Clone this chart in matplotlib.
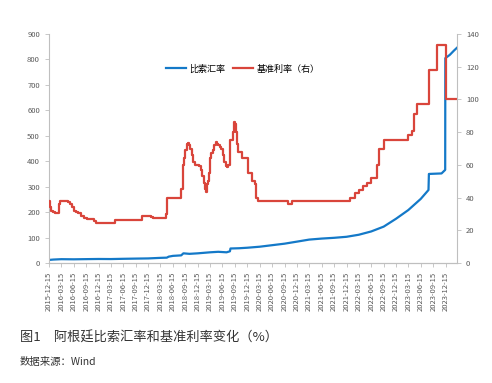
import matplotlib.pyplot as plt
import pandas as pd

plt.rcParams['font.family'] = ['Noto Sans CJK SC', 'DejaVu Sans']

# 比索汇率 (ARS/USD, left axis)
fx_dates = ['2015-12-15', '2016-01-15', '2016-03-15', '2016-06-15', '2016-09-15', '2016-12-15',
            '2017-03-15', '2017-06-15', '2017-09-15', '2017-12-15', '2018-03-15', '2018-05-01',
            '2018-05-15', '2018-06-15', '2018-08-15', '2018-08-31', '2018-10-15', '2018-12-15',
            '2019-03-15', '2019-05-15', '2019-07-15', '2019-08-09', '2019-08-13', '2019-10-15',
            '2019-12-15', '2020-03-15', '2020-06-15', '2020-09-15', '2020-12-15', '2021-03-15',
            '2021-06-15', '2021-09-15', '2021-12-15', '2022-03-15', '2022-06-15', '2022-09-15',
            '2022-12-15', '2023-03-15', '2023-06-15', '2023-08-11', '2023-08-14', '2023-11-15',
            '2023-12-12', '2023-12-13', '2024-01-15', '2024-02-15', '2024-03-08']
fx_values = [12, 13.5, 15, 14.5, 15.2, 15.8,
             15.5, 16.5, 17.3, 18, 20.2, 21,
             25, 28, 30, 38, 36, 38,
             42, 44, 42, 46, 57, 58,
             60, 64, 70, 76, 84, 92,
             96, 99, 103, 111, 124, 143,
             174, 208, 252, 287, 350, 352,
             366, 805, 818, 835, 846]

# 基准利率 (%, right axis)
rate_dates = ['2015-12-15', '2015-12-22', '2015-12-29', '2016-01-12', '2016-01-26', '2016-02-16',
              '2016-02-23', '2016-03-01', '2016-03-08', '2016-05-03', '2016-05-17', '2016-05-31',
              '2016-06-14', '2016-06-28', '2016-07-19', '2016-08-09', '2016-08-30', '2016-09-20',
              '2016-11-08', '2016-11-22', '2017-04-11', '2017-10-31', '2018-01-02', '2018-01-16',
              '2018-04-27', '2018-05-04', '2018-08-13', '2018-08-30', '2018-09-06', '2018-09-14',
              '2018-09-24', '2018-10-02', '2018-10-12', '2018-10-22', '2018-11-01', '2018-11-12',
              '2018-11-26', '2018-12-10', '2018-12-24', '2019-01-07', '2019-01-18', '2019-01-28',
              '2019-02-06', '2019-02-14', '2019-02-20', '2019-02-27', '2019-03-06', '2019-03-13',
              '2019-03-20', '2019-03-28', '2019-04-05', '2019-04-15', '2019-04-25', '2019-05-06',
              '2019-05-16', '2019-05-27', '2019-06-06', '2019-06-17', '2019-06-27', '2019-07-08',
              '2019-07-18', '2019-07-29', '2019-08-06', '2019-08-13', '2019-08-21', '2019-08-29',
              '2019-09-05', '2019-09-12', '2019-09-20', '2019-09-27', '2019-10-07', '2019-10-24',
              '2019-11-05', '2019-12-18', '2020-01-21', '2020-02-07', '2020-02-14', '2020-03-06',
              '2020-10-12', '2020-11-12', '2022-01-06', '2022-02-17', '2022-03-17', '2022-04-14',
              '2022-05-12', '2022-06-16', '2022-07-28', '2022-08-11', '2022-09-15', '2023-03-16',
              '2023-04-13', '2023-04-20', '2023-04-27', '2023-05-15', '2023-08-14', '2023-10-12',
              '2023-12-18', '2024-03-08']
rate_values = [38, 34, 32, 31, 30.5, 30.3,
               31, 36, 38, 37.5, 36, 34,
               32, 31, 30.3, 28.5, 27.5, 26.75,
               25.75, 24.75, 26.25, 28.75, 28, 27.25,
               30.25, 40, 45, 60, 64, 69,
               73, 73.5, 72, 70, 66, 62,
               60, 60, 59, 57, 53, 49,
               45, 43.6, 48, 50, 55, 64,
               67, 67.5, 69, 72, 74, 73,
               72, 71, 70, 66, 62, 59.5,
               58.5, 60, 62, 75, 75.5, 80,
               85.9, 85, 80, 73, 68, 68,
               64, 55, 50, 48, 40, 38,
               36, 38, 40, 42.5, 44.5, 47,
               49, 52, 60, 69.5, 75, 78,
               81, 81, 91, 97, 118, 133,
               100, 100]

tick_dates = pd.date_range('2015-12-01', '2023-12-01', freq='3MS') + pd.Timedelta(days=14)
tick_labels = [d.strftime('%Y-%m-%d') for d in tick_dates]

fx_x = pd.to_datetime(fx_dates)
rate_x = pd.to_datetime(rate_dates)

fig = plt.figure(figsize=(4.92, 3.83), dpi=100)
ax = fig.add_axes([49 / 492, 120 / 383, 408 / 492, 229 / 383])
ax2 = ax.twinx()

blue = '#1479c8'
red = '#d9453b'

l1, = ax.plot(fx_x, fx_values, color=blue, linewidth=1.6, label='比索汇率')
l2, = ax2.plot(rate_x, rate_values, color=red, linewidth=1.6, drawstyle='steps-post',
               label='基准利率（右）')

ax.set_ylim(0, 900)
ax.set_yticks(range(0, 901, 100))
ax2.set_ylim(0, 140)
ax2.set_yticks(range(0, 141, 20))
ax.set_xlim(pd.Timestamp('2015-12-15'), pd.Timestamp('2024-03-08'))
ax.set_xticks(tick_dates)
ax.set_xticklabels(tick_labels, rotation=90)

for a in (ax, ax2):
    a.spines['top'].set_visible(False)
    for s in ('left', 'right', 'bottom'):
        a.spines[s].set_color('#bfbfbf')
        a.spines[s].set_linewidth(0.8)
    a.tick_params(labelsize=5.5, colors='#595959', length=3, width=0.6)
    a.tick_params(axis='both', color='#bfbfbf')
ax2.spines['left'].set_visible(False)
ax.spines['right'].set_visible(False)

ax.legend(handles=[l1, l2], loc='center', bbox_to_anchor=(0.475, 0.847), ncol=2,
          frameon=False, fontsize=6.5, handlelength=2.2, columnspacing=0.8,
          handletextpad=0.4)

fig.text(20 / 492, 1 - 338 / 383, '图1　阿根廷比索汇率和基准利率变化（%）',
         fontsize=9.5, color='#333333', va='center')
fig.text(20 / 492, 1 - 362 / 383, '数据来源：Wind', fontsize=7.5, color='#333333', va='center')

fig.savefig('out.png', dpi=100)
